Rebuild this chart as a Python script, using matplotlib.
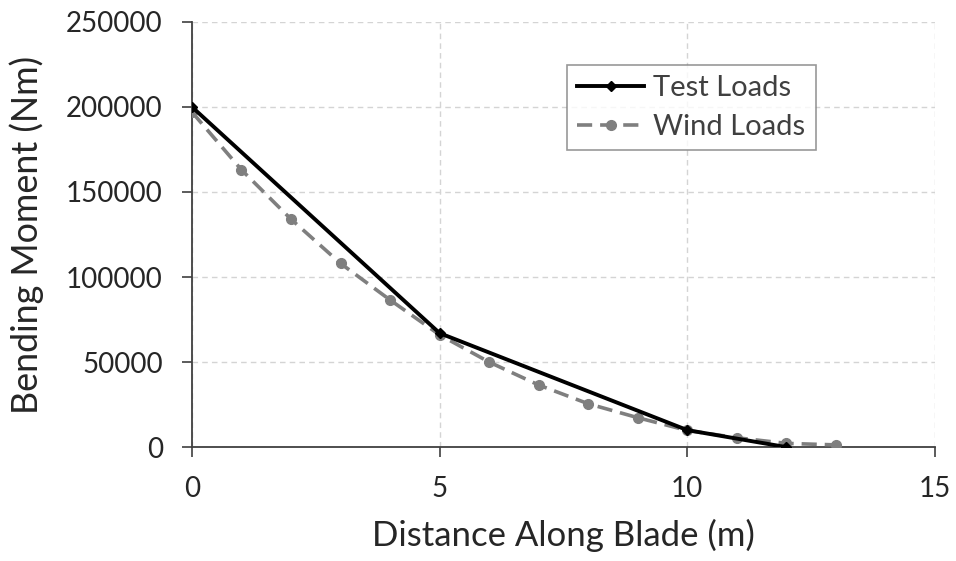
import matplotlib.pyplot as plt

plt.rcParams['font.family'] = ['Lato', 'DejaVu Sans']

# data
test_x = [0, 5, 10, 12]
test_y = [200000, 67000, 10000, 0]

wind_x = [0, 1, 2, 3, 4, 5, 6, 7, 8, 9, 10, 11, 12, 13]
wind_y = [197000, 163000, 134000, 108000, 86500, 66000, 50000, 36500, 25500,
          17300, 9800, 5500, 2200, 1300]

x_ticks = [0, 5, 10, 15]
y_ticks = [0, 50000, 100000, 150000, 200000, 250000]

fig = plt.figure(figsize=(9.56, 5.61), dpi=100)
ax = fig.add_axes([0.2008, 0.203, 0.7772, 0.758])

ax.plot(wind_x, wind_y, color='#7f7f7f', lw=2.6, ls=(0, (4.2, 2.2)),
        marker='o', ms=7, label='Wind Loads', zorder=3)
ax.plot(test_x, test_y, color='black', lw=2.8, marker='D', ms=5.5,
        label='Test Loads', zorder=4)

ax.set_xlim(0, 15)
ax.set_ylim(0, 250000)
ax.set_xticks(x_ticks)
ax.set_yticks(y_ticks)
ax.set_xticklabels([str(v) for v in x_ticks])
ax.set_yticklabels([str(v) for v in y_ticks])

ax.grid(True, color='#d4d4d4', ls=(0, (4, 3)), lw=1)
ax.set_axisbelow(True)
for s in ['top', 'right']:
    ax.spines[s].set_visible(False)
for s in ['left', 'bottom']:
    ax.spines[s].set_color('#404040')
    ax.spines[s].set_linewidth(1.3)

ax.tick_params(axis='both', labelsize=20, colors='#404040', length=7,
               width=1.2, labelcolor='#262626', pad=14)
ax.set_xlabel('Distance Along Blade (m)', fontsize=25, labelpad=12, color='#262626')
ax.set_ylabel('Bending Moment (Nm)', fontsize=25.8, labelpad=16, color='#262626')

h, l = ax.get_legend_handles_labels()
leg = ax.legend(h[::-1], l[::-1], loc='upper left', bbox_to_anchor=(0.505, 0.899),
                borderaxespad=0, fontsize=21, frameon=True, fancybox=False,
                handlelength=2.3, handletextpad=0.3, borderpad=0.35,
                labelspacing=0.45)
leg.get_frame().set_edgecolor('#7f7f7f')
leg.get_frame().set_linewidth(1.2)
for t in leg.get_texts():
    t.set_color('#404040')

fig.savefig('out.png', dpi=100)
